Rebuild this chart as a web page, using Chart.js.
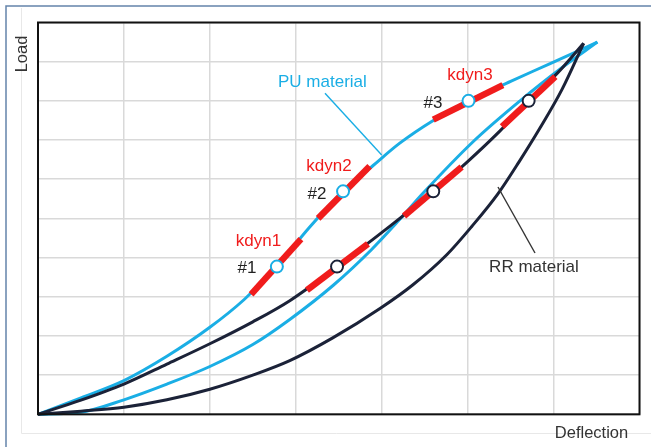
<!DOCTYPE html>
<html><head><meta charset="utf-8">
<script src="https://cdn.jsdelivr.net/npm/chart.js@4.4.1/dist/chart.umd.min.js"></script>
<style>html,body{margin:0;padding:0;background:#fff;overflow:hidden}#wrap{width:651px;height:447px;position:relative}</style>
</head><body><div id="wrap"><canvas id="c" width="651" height="447"></canvas></div>
<script>
// ---- tick positions (no tick labels are shown in the reference) ----
const xTicks = [0,1,2,3,4,5,6,7];
const yTicks = [0,1,2,3,4,5,6,7,8,9,10];

// ---- PU material hysteresis loop ----
const puUpperX = [0,0.5,1.0,1.5,2.0,2.4,2.78,3.15,3.55,3.9,4.21,4.6,5.01,5.5,5.96,6.51];
const puUpperY = [0,0.42,0.86,1.48,2.22,2.93,3.77,4.75,5.69,6.35,6.92,7.5,8.0,8.5,8.95,9.5];
const puLowerX = [0,0.49,1.0,1.5,2.0,2.5,2.93,3.44,3.88,4.2,4.48,5.06,5.61,6.1,6.51];
const puLowerY = [0,0.05,0.37,0.77,1.22,1.78,2.42,3.3,4.2,4.95,5.64,6.95,8.0,8.85,9.5];

// ---- RR material hysteresis loop ----
const rrUpperX = [0,0.5,1.0,1.5,2.0,2.5,2.93,3.48,4.1,4.6,5.0,5.38,5.71,6.05,6.35];
const rrUpperY = [0,0.36,0.77,1.28,1.8,2.36,2.9,3.77,4.81,5.69,6.45,7.24,8.0,8.72,9.47];
const rrLowerX = [0,0.5,1.0,1.5,2.0,2.5,2.93,3.43,3.98,4.36,4.76,5.05,5.35,5.6,5.84,6.1,6.35];
const rrLowerY = [0,0.08,0.18,0.37,0.64,1.0,1.37,1.95,2.7,3.3,4.08,4.8,5.62,6.45,7.3,8.3,9.47];

// ---- measuring points #1..#3 ----
const puPointX = [2.78,3.55,5.01];
const puPointY = [3.77,5.69,8.0];
const rrPointX = [3.48,4.6,5.71];
const rrPointY = [3.77,5.69,8.0];

// ---- dynamic stiffness segments kdyn (start x, start y, end x, end y) ----
const puKdynX0 = [2.48,3.26,4.6];
const puKdynY0 = [3.06,5.0,7.52];
const puKdynX1 = [3.06,3.86,5.41];
const puKdynY1 = [4.47,6.33,8.4];
const rrKdynX0 = [3.13,4.26,5.4];
const rrKdynY0 = [3.17,5.06,7.34];
const rrKdynX1 = [3.84,4.93,6.02];
const rrKdynY1 = [4.35,6.31,8.62];

// ---- annotation texts (anchor: centre x, baseline y, in data units) ----
const labelText = ['PU material','kdyn1','kdyn2','kdyn3','#1','#2','#3','RR material'];
const labelX = [3.31,2.566,3.386,5.027,2.432,3.247,4.597,5.772];
const labelY = [8.35,4.306,6.202,8.543,3.606,5.505,7.818,3.624];
const labelKind = ['pu','k','k','k','n','n','n','rr'];
// leader lines
const leaderX0 = [3.34,5.353];
const leaderY0 = [8.193,5.801];
const leaderX1 = [4.0,5.784];
const leaderY1 = [6.618,4.117];
const leaderKind = ['pu','rr'];

const C_PU = '#1aaee5', C_RR = '#1b2238', C_RED = '#f01c1c';
const zip = (xs, ys) => xs.map((x,i)=>({x, y: ys[i]}));

const curve = (label, xs, ys, color) => ({
  label, data: zip(xs, ys), showLine: true, borderColor: color, borderWidth: 3,
  pointRadius: 0, cubicInterpolationMode: 'monotone', fill: false, clip: false,
  order: color === C_PU ? 4 : 3
});
const datasets = [
  curve('PU loading', puUpperX, puUpperY, C_PU),
  curve('PU return', puLowerX, puLowerY, C_PU),
  curve('RR loading', rrUpperX, rrUpperY, C_RR),
  curve('RR return', rrLowerX, rrLowerY, C_RR)
];
for (let i=0;i<3;i++){
  datasets.push({label:'kdyn'+(i+1)+' PU', data:[{x:puKdynX0[i],y:puKdynY0[i]},{x:puKdynX1[i],y:puKdynY1[i]}],
    showLine:true, borderColor:C_RED, borderWidth:6.5, borderCapStyle:'butt', pointRadius:0, order:2});
  datasets.push({label:'kdyn'+(i+1)+' RR', data:[{x:rrKdynX0[i],y:rrKdynY0[i]},{x:rrKdynX1[i],y:rrKdynY1[i]}],
    showLine:true, borderColor:C_RED, borderWidth:6.5, borderCapStyle:'butt', pointRadius:0, order:2});
}
datasets.push({label:'PU points', data: zip(puPointX, puPointY), showLine:false, pointRadius:6,
  pointBackgroundColor:'#ffffff', pointBorderColor:C_PU, pointBorderWidth:2, order:1});
datasets.push({label:'RR points', data: zip(rrPointX, rrPointY), showLine:false, pointRadius:6,
  pointBackgroundColor:'#ffffff', pointBorderColor:C_RR, pointBorderWidth:2, order:1});

const FONT = '"Liberation Sans", Arial, Helvetica, sans-serif';
const textStyle = {
  pu: {color: C_PU, size: 17},
  k:  {color: C_RED, size: 17},
  n:  {color: '#222222', size: 17},
  rr: {color: '#333333', size: 17}
};

const decor = {
  id: 'decor',
  beforeDraw(chart){
    const ctx = chart.ctx;
    ctx.save();
    ctx.fillStyle = '#ffffff';
    ctx.fillRect(0,0,chart.width,chart.height);
    ctx.strokeStyle = '#e8e8e8'; ctx.lineWidth = 1;
    ctx.beginPath(); ctx.moveTo(21.5,8); ctx.lineTo(21.5,433.5); ctx.lineTo(651,433.5); ctx.stroke();
    ctx.strokeStyle = '#6484aa'; ctx.lineWidth = 1.5;
    ctx.beginPath(); ctx.moveTo(6,447); ctx.lineTo(6,6); ctx.lineTo(651,6); ctx.stroke();
    ctx.restore();
  },
  afterDatasetsDraw(chart){
    const ctx = chart.ctx, xs = chart.scales.x, ys = chart.scales.y, a = chart.chartArea;
    ctx.save();
    ctx.strokeStyle = '#111111'; ctx.lineWidth = 2;
    ctx.strokeRect(a.left, a.top, a.right-a.left, a.bottom-a.top);
    for (let i=0;i<leaderX0.length;i++){
      ctx.strokeStyle = leaderKind[i]==='pu' ? C_PU : '#333333';
      ctx.lineWidth = 1.4;
      ctx.beginPath();
      ctx.moveTo(xs.getPixelForValue(leaderX0[i]), ys.getPixelForValue(leaderY0[i]));
      ctx.lineTo(xs.getPixelForValue(leaderX1[i]), ys.getPixelForValue(leaderY1[i]));
      ctx.stroke();
    }
    ctx.textAlign = 'center'; ctx.textBaseline = 'alphabetic';
    for (let i=0;i<labelText.length;i++){
      const st = textStyle[labelKind[i]];
      ctx.fillStyle = st.color; ctx.font = st.size+'px '+FONT;
      ctx.fillText(labelText[i], xs.getPixelForValue(labelX[i]), ys.getPixelForValue(labelY[i]));
    }
    ctx.fillStyle = '#333333'; ctx.font = '16.5px '+FONT;
    ctx.fillText('Deflection', a.right - 48, a.bottom + 23.3);
    ctx.translate(a.left - 11, a.top + 31.5);
    ctx.rotate(-Math.PI/2);
    ctx.fillText('Load', 0, 0);
    ctx.restore();
  }
};

new Chart(document.getElementById('c'), {
  type: 'scatter',
  data: { datasets },
  options: {
    responsive: false, animation: false, devicePixelRatio: 1,
    layout: { padding: { left: 38, top: 22.5, right: 11.5, bottom: 32.7 } },
    plugins: { legend: { display: false }, tooltip: { enabled: false } },
    scales: {
      x: { type: 'linear', min: 0, max: 7,
        afterBuildTicks: s => { s.ticks = xTicks.map(v => ({value: v})); },
        ticks: { display: false }, border: { display: false },
        grid: { color: '#d9d9d9', lineWidth: 1.5, drawTicks: false } },
      y: { type: 'linear', min: 0, max: 10,
        afterBuildTicks: s => { s.ticks = yTicks.map(v => ({value: v})); },
        ticks: { display: false }, border: { display: false },
        grid: { color: '#d9d9d9', lineWidth: 1.5, drawTicks: false } }
    }
  },
  plugins: [decor]
});
</script></body></html>
